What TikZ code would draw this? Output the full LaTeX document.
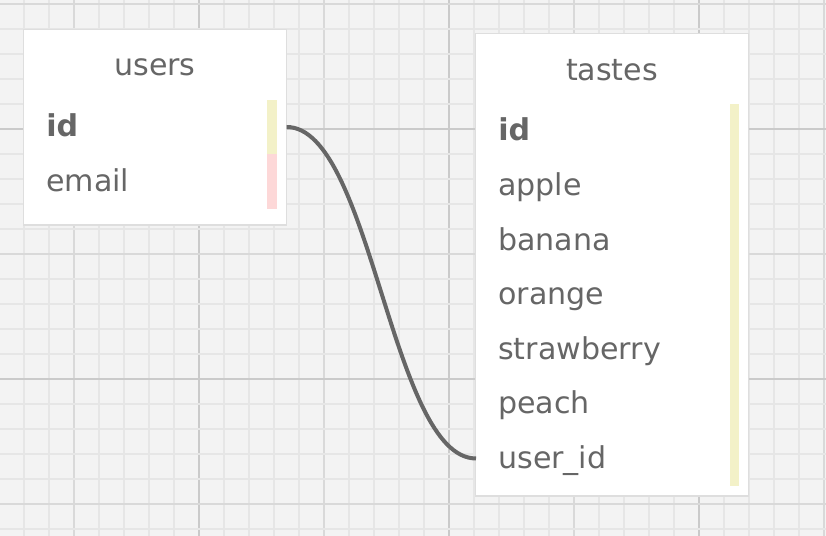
\documentclass[tikz,border=0pt]{standalone}
\usepackage{fontspec}
\setmainfont{DejaVu Sans}
\usepackage{tikz}
\usetikzlibrary{positioning}

\definecolor{gridbg}{HTML}{F3F3F3}
\definecolor{gridminor}{HTML}{E6E6E6}
\definecolor{gridmedium}{HTML}{D9D9D9}
\definecolor{gridmajor}{HTML}{CACACA}
\definecolor{txtgray}{HTML}{666666}
\definecolor{keyyellow}{HTML}{F3F1C8}
\definecolor{keypink}{HTML}{FDD8D8}
\definecolor{boxshadow}{HTML}{DEDEDE}

\tikzset{
	tabletitle/.style={text=txtgray, anchor=base, inner sep=0pt, font=\fontsize{21.4}{25}\selectfont},
	tablerow/.style={text=txtgray, anchor=west, inner ysep=0pt, inner xsep=0.55cm,
		text height=0.925cm, text depth=0.425cm, text width=#1, align=left,
		font=\fontsize{21.4}{25}\selectfont},
	link/.style={draw=txtgray, line width=0.1cm}
}

\begin{document}
\begin{tikzpicture}[x=0.025cm, y=-0.025cm]
				% background grid
				\fill[gridbg] (0,0) rectangle (826,536);
				\useasboundingbox (0,0) rectangle (826,536);
				\foreach \x in {-1,24,...,824}
				{
					\pgfmathtruncatemacro\mynumber{mod(\x+51,250)}
					\ifnum \mynumber=0
						\draw[gridmajor, line width=0.045cm] (\x,0) -- (\x,536);
					\else\ifnum \mynumber=125
						\draw[gridmedium, line width=0.045cm] (\x,0) -- (\x,536);
					\else
						\draw[gridminor, line width=0.04cm] (\x,0) -- (\x,536);
					\fi\fi
				}
				\foreach \y in {4,29,...,529}
				{
					\pgfmathtruncatemacro\mynumber{mod(\y+121,250)}
					\ifnum \mynumber=0
						\draw[gridmajor, line width=0.045cm] (0,\y) -- (826,\y);
					\else\ifnum \mynumber=125
						\draw[gridmedium, line width=0.045cm] (0,\y) -- (826,\y);
					\else
						\draw[gridminor, line width=0.04cm] (0,\y) -- (826,\y);
					\fi\fi
				}

				% users table
				\fill[boxshadow] (23,29) rectangle (287,226);
				\fill[white] (24,30) rectangle (286,224);
				\node[tabletitle] (users) at (155,76) {users};
				\node[tablerow=5.45cm] (uid) at (24,127) {\textbf{id}};
				\node[tablerow=5.45cm, below=0pt of uid] (email) {email};
				\fill[keyyellow] ([xshift=-0.5cm]uid.north east) rectangle ([xshift=-0.25cm]uid.south east);
				\fill[keypink] ([xshift=-0.5cm]email.north east) rectangle ([xshift=-0.25cm]email.south east);

				% tastes table
				\fill[boxshadow] (475,33) rectangle (749,497);
				\fill[white] (476,34) rectangle (748,495);
				\node[tabletitle] (tastes) at (612,81) {tastes};
				\node[tablerow=5.7cm] (tid) at (476,131) {\textbf{id}};
				\node[tablerow=5.7cm, below=0pt of tid] (apple) {apple};
				\node[tablerow=5.7cm, below=0pt of apple] (banana) {banana};
				\node[tablerow=5.7cm, below=0pt of banana] (orange) {orange};
				\node[tablerow=5.7cm, below=0pt of orange] (strawberry) {strawberry};
				\node[tablerow=5.7cm, below=0pt of strawberry] (peach) {peach};
				\node[tablerow=5.7cm, below=0pt of peach] (tuid) {user\_id};
				\fill[keyyellow] ([xshift=-0.475cm]tid.north east) rectangle ([xshift=-0.25cm]tuid.south east);

				% relation
				\draw[link] (uid.east) .. controls +(85,0) and +(-85,0) .. (tuid.west);
			\end{tikzpicture}
\end{document}
